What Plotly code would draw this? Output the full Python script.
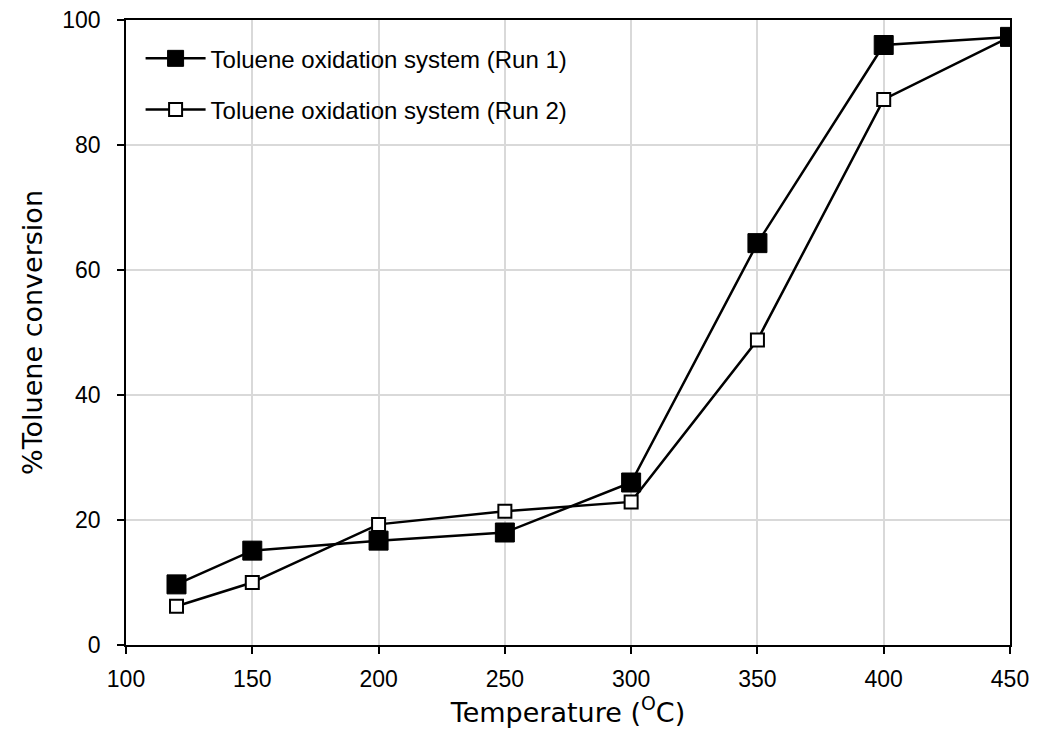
import plotly.graph_objects as go

temperature = [120, 150, 200, 250, 300, 350, 400, 450]
run1 = [9.7, 15.1, 16.7, 18.0, 26.0, 64.3, 96.0, 97.3]
run2 = [6.2, 10.0, 19.3, 21.4, 22.9, 48.8, 87.3, 97.3]
x_ticks = [100, 150, 200, 250, 300, 350, 400, 450]
y_ticks = [0, 20, 40, 60, 80, 100]

fig = go.Figure()
fig.add_trace(go.Scatter(
    x=temperature, y=run2, mode="lines+markers",
    name="Toluene oxidation system (Run 2)", legendgroup="b", legendrank=2,
    line=dict(color="black", width=2.5),
    marker=dict(symbol="square", size=13, color="white", line=dict(color="black", width=2)),
))
fig.add_trace(go.Scatter(
    x=temperature, y=run1, mode="lines+markers",
    name="Toluene oxidation system (Run 1)", legendgroup="a", legendrank=1,
    line=dict(color="black", width=2.5),
    marker=dict(symbol="square", size=19, color="black", line=dict(color="black", width=1)),
))

axis_common = dict(
    showline=True, linecolor="black", linewidth=1.5, mirror=True,
    ticks="outside", ticklen=7, tickcolor="black", tickwidth=1.5,
    showgrid=True, gridcolor="#d9d9d9", gridwidth=1.5, zeroline=False,
    ticklabeloverflow="allow",
    tickfont=dict(family="Liberation Sans, Arial", size=23, color="black"),
)

fig.update_layout(
    width=1038, height=734,
    margin=dict(l=118, r=36, t=12, b=97),
    paper_bgcolor="white", plot_bgcolor="white",
    xaxis=dict(range=[100, 450], tickvals=x_ticks, ticklabelstandoff=6,
               automargin="bottom",
               title=dict(text="Temperature (<sup>O</sup>C)", standoff=10,
                          font=dict(family="DejaVu Sans", size=27, color="black")),
               **axis_common),
    yaxis=dict(range=[0, 100], tickvals=y_ticks, ticklabelstandoff=12,
               automargin="left",
               title=dict(text="%Toluene conversion", standoff=12,
                          font=dict(family="DejaVu Sans", size=27, color="black")),
               **axis_common),
    legend=dict(x=0.0165, y=0.974, xanchor="left", yanchor="top",
                bgcolor="rgba(0,0,0,0)", traceorder="grouped",
                font=dict(family="Liberation Sans, Arial", size=24, color="black"),
                itemwidth=60, tracegroupgap=17),
    showlegend=True,
)

fig.write_html("out.html")
